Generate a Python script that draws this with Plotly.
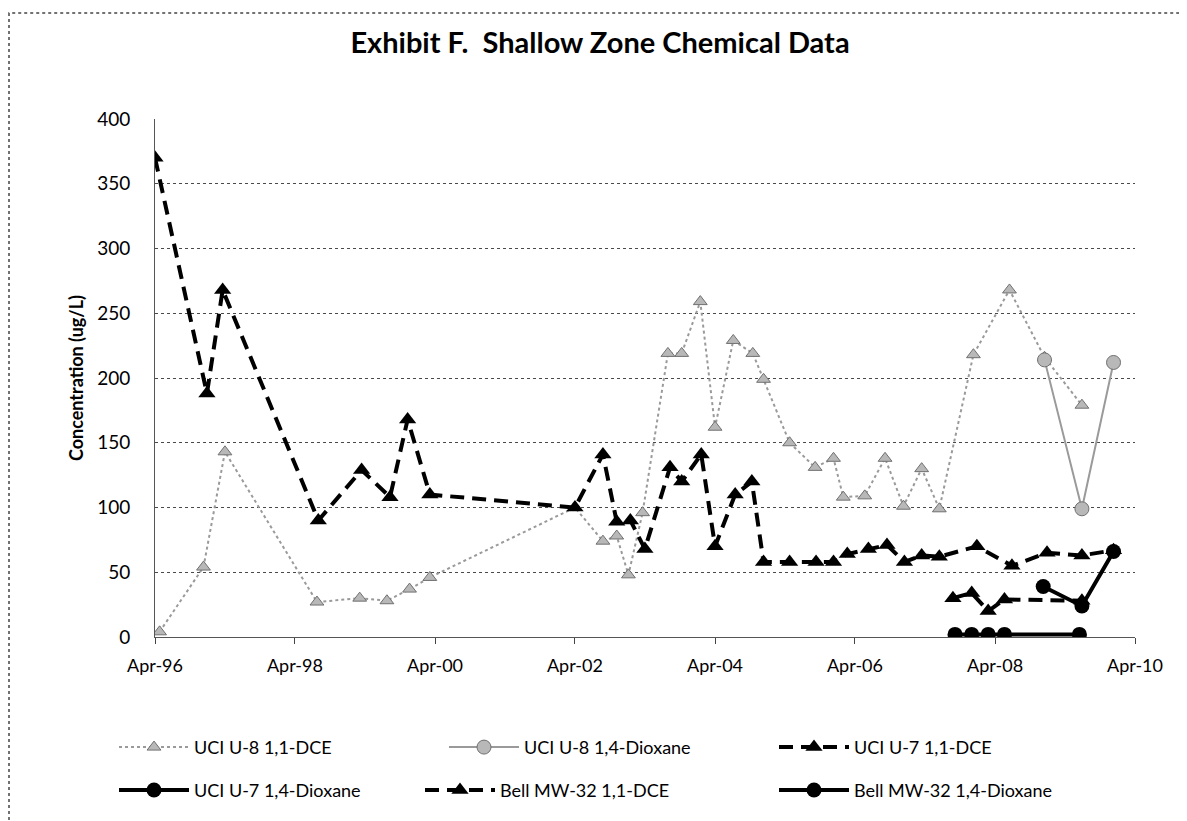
import plotly.graph_objects as go

# ---------------- data ----------------
u7_dce_dates = ["1996-04-01", "1996-12-28", "1997-03-20", "1998-08-01", "1999-03-15", "1999-08-10",
                "1999-11-10", "2000-03-05", "2002-04-01", "2002-08-25", "2002-11-05", "2003-01-15",
                "2003-04-01", "2003-08-10", "2003-10-10", "2004-01-20", "2004-04-01", "2004-07-15",
                "2004-10-10", "2004-12-10", "2005-04-25", "2005-09-10", "2005-12-10", "2006-02-20",
                "2006-06-10", "2006-09-15", "2006-12-15", "2007-03-15", "2007-06-15", "2007-12-28",
                "2008-06-28", "2008-12-28", "2009-06-28", "2009-12-10"]
u7_dce_vals = [370, 188, 268, 90, 129, 108, 168, 110, 100, 141, 89, 90, 68, 131, 120, 141, 70, 110,
               120, 58, 58, 58, 58, 64, 68, 71, 58, 63, 62, 70, 55, 65, 63, 67]

u8_dce_dates = ["1996-04-25", "1996-12-10", "1997-04-01", "1998-07-25", "1999-03-05", "1999-07-25",
                "1999-11-20", "2000-03-05", "2002-04-01", "2002-08-25", "2002-11-05", "2003-01-05",
                "2003-03-20", "2003-07-30", "2003-10-10", "2004-01-15", "2004-04-01", "2004-07-05",
                "2004-10-15", "2004-12-10", "2005-04-25", "2005-09-05", "2005-12-10", "2006-01-30",
                "2006-05-22", "2006-09-05", "2006-12-10", "2007-03-15", "2007-06-15", "2007-12-10",
                "2008-06-15", "2008-12-15", "2009-06-28"]
u8_dce_vals = [4, 54, 143, 27, 30, 28, 37, 46, 100, 74, 78, 48, 96, 219, 219, 259, 162, 229,
               219, 199, 150, 131, 138, 108, 109, 138, 101, 130, 99, 218, 268, 216, 179]

u8_diox_dates = ["2008-12-15", "2009-06-28", "2009-12-10"]
u8_diox_vals = [214, 99, 212]

u7_diox_dates = ["2007-09-05", "2007-12-01", "2008-02-25", "2008-05-20", "2009-06-15"]
u7_diox_vals = [2, 2, 2, 2, 2]

bell_dce_dates = ["2007-08-25", "2007-12-01", "2008-02-25", "2008-05-20", "2009-06-28"]
bell_dce_vals = [30, 34, 20, 29, 28]

bell_diox_dates = ["2008-12-08", "2009-06-28", "2009-12-10"]
bell_diox_vals = [39, 24, 66]

x_tick_vals = ["1996-04-01", "1998-04-01", "2000-04-01", "2002-04-01", "2004-04-01",
               "2006-04-01", "2008-04-01", "2010-04-01"]
x_tick_text = ["Apr-96", "Apr-98", "Apr-00", "Apr-02", "Apr-04", "Apr-06", "Apr-08", "Apr-10"]

FONT = "Lato"
OFF = 8  # page body margin
W, H = 1187 - OFF, 821 - OFF
PLOT_L, PLOT_R, PLOT_T, PLOT_B = 155, 1135, 119, 637.5   # page px
L = PLOT_L - OFF
R = W - (PLOT_R - OFF)
T = PLOT_T - OFF
B = H - (PLOT_B - OFF)

pw = W - L - R
ph = H - T - B


def px_x(px):  # page pixel -> paper x
    return (px - OFF - L) / pw


def px_y(py):  # page pixel -> paper y
    return (H - B - (py - OFF)) / ph


fig = go.Figure()

gray_line = "#9a9a9a"
gray_mark = "#b8b8b8"
DASH = "14px,8px"

fig.add_trace(go.Scatter(
    x=u8_dce_dates, y=u8_dce_vals, name="UCI U-8 1,1-DCE", mode="lines+markers",
    line=dict(color=gray_line, width=2, dash="dot"),
    marker=dict(symbol="triangle-up", size=12, color=gray_mark, line=dict(color="#707070", width=1)),
    legend="legend"))
fig.add_trace(go.Scatter(
    x=u8_diox_dates, y=u8_diox_vals, name="UCI U-8 1,4-Dioxane", mode="lines+markers",
    line=dict(color=gray_line, width=2),
    marker=dict(symbol="circle", size=14, color=gray_mark, line=dict(color="#707070", width=1)),
    legend="legend2"))
fig.add_trace(go.Scatter(
    x=u7_dce_dates, y=u7_dce_vals, name="UCI U-7 1,1-DCE", mode="lines+markers",
    line=dict(color="black", width=4, dash=DASH),
    marker=dict(symbol="triangle-up", size=15, color="black"),
    legend="legend3"))
fig.add_trace(go.Scatter(
    x=u7_diox_dates, y=u7_diox_vals, name="UCI U-7 1,4-Dioxane", mode="lines+markers",
    line=dict(color="black", width=4),
    marker=dict(symbol="circle", size=15, color="black"),
    legend="legend4"))
fig.add_trace(go.Scatter(
    x=bell_dce_dates, y=bell_dce_vals, name="Bell MW-32 1,1-DCE", mode="lines+markers",
    line=dict(color="black", width=4, dash=DASH),
    marker=dict(symbol="triangle-up", size=15, color="black"),
    legend="legend5"))
fig.add_trace(go.Scatter(
    x=bell_diox_dates, y=bell_diox_vals, name="Bell MW-32 1,4-Dioxane", mode="lines+markers",
    line=dict(color="black", width=4),
    marker=dict(symbol="circle", size=15, color="black"),
    legend="legend6"))

# outer chart border (left and top edges visible)
fig.add_shape(type="rect", xref="paper", yref="paper",
              x0=px_x(9), x1=px_x(1200), y0=px_y(830), y1=px_y(13),
              line=dict(color="#444", width=1.5, dash="dot"), layer="below")

# legend text start positions (page px) and row centres
ITEMW = 70
leg_pos = [(194, 748), (524, 748), (854, 748), (194, 791), (500, 791), (854, 791)]
legends = {}
for i, (tx, ty) in enumerate(leg_pos):
    key = "legend" if i == 0 else f"legend{i + 1}"
    legends[key] = dict(orientation="h", x=px_x(tx - ITEMW - 10), xanchor="left",
                        y=px_y(ty), yanchor="middle", font=dict(size=18),
                        itemwidth=ITEMW, bgcolor="rgba(0,0,0,0)")

fig.update_layout(
    width=W, height=H,
    margin=dict(l=L, r=R, t=T, b=B, autoexpand=False),
    paper_bgcolor="white", plot_bgcolor="white",
    font=dict(family=FONT, color="black", size=18),
    title=dict(text="<b>Exhibit F.  Shallow Zone Chemical Data</b>",
               x=(600 - OFF) / W, xanchor="center", y=1 - (43 - OFF) / H, yanchor="middle",
               font=dict(family=FONT, size=29, color="black")),
    xaxis=dict(type="date", range=["1996-04-01", "2010-04-01"],
               tickvals=x_tick_vals, ticktext=x_tick_text,
               ticks="outside", ticklen=6, tickcolor="#444", ticklabelstandoff=6,
               showgrid=False, showline=True, linecolor="#555", linewidth=1,
               tickfont=dict(size=18), zeroline=False),
    yaxis=dict(range=[0, 400], dtick=50, tickfont=dict(size=19),
               showgrid=True, gridcolor="#4a4a4a", griddash="dot", gridwidth=1,
               showline=True, linecolor="#555", linewidth=1, zeroline=False,
               ticks="", ticklabelstandoff=20,
               title=dict(text="<b>Concentration (ug/L)</b>", font=dict(size=18), standoff=8)),
    showlegend=True,
    **legends,
)

fig.write_html("out.html")
